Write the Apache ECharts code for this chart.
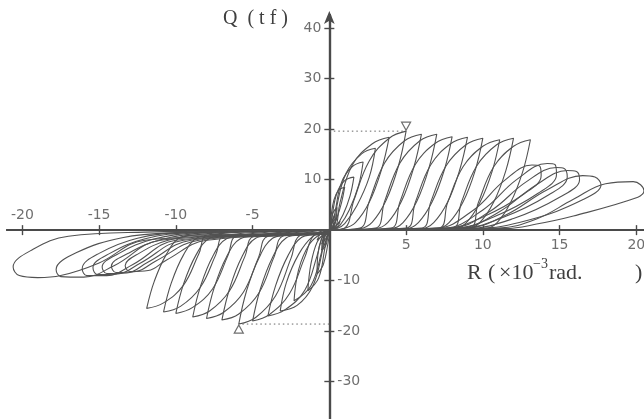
<!DOCTYPE html>
<html>
<head>
<meta charset="utf-8">
<script src="https://cdn.jsdelivr.net/npm/echarts@6/dist/echarts.min.js"></script>
<style>
  html, body { margin: 0; padding: 0; background: #ffffff; }
  #chart { width: 644px; height: 419px; }
</style>
</head>
<body>
<div id="chart"></div>
<script>
// Axis ticks and labels (R in 1e-3 rad, Q in tf)
const xTickValues = [-20, -15, -10, -5, 5, 10, 15, 20];
const xLabelsNeg = [-20, -15, -10, -5];
const xLabelsPos = [5, 10, 15, 20];
const yTickValues = [-30, -20, -10, 10, 20, 30, 40];
const yLabelsPos = [10, 20, 30, 40];
const yLabelsNeg = [-10, -20, -30];

// Maximum load points in each direction
const peakPos = [5.0, 19.6];
const peakNeg = [-5.9, -18.6];

// Small cycles around the origin
const originLoops = [
  [[0,0],[0.3,1.2],[0.5,2.5],[0.2,1.5],[0,0],[-0.3,-1.2],[-0.5,-2.8],[-0.2,-1.5],[0,0]],
  [[0,0],[0.2,2],[0.35,3.2],[0.15,1],[0,0],[-0.2,-2],[-0.4,-3.5],[-0.1,-1],[0,0]],
  [[0,0],[0.4,0.8],[0.7,1.8],[0.5,0.6],[0,0],[-0.4,-1],[-0.8,-2],[-0.5,-0.5],[0,0]]
];

// Positive half cycles (R, Q)
const positiveLoops = [
  [[0,0],[0.1,1.5],[0.25,3.5],[0.5,4.5],[0.45,2.5],[0.3,0.8],[0.1,0.1],[0,0]],
  [[0,0],[0.1,2.5],[0.3,6],[0.6,7.9],[1.0,8.5],[0.8,5.5],[0.5,2.5],[0.2,0.4],[0,0]],
  [[0,0],[0.1,0.3],[0.2,3.1],[0.5,7.4],[1.0,9.8],[1.6,10.5],[1.35,6.8],[0.9,3.1],[0.4,0.6],[0.1,0.2],[0,0]],
  [[0,0],[0.2,0.3],[0.4,4],[0.8,9.5],[1.5,12.6],[2.2,13.5],[1.9,8.8],[1.3,4],[0.7,1],[0.3,0.2],[0,0]],
  [[0,0],[0.3,0.3],[0.5,4.9],[1.1,11.3],[2.1,15.1],[3.0,16.2],[2.6,10.5],[1.8,4.9],[1.0,1.3],[0.5,0.3],[0,0]],
  [[0,0],[0.4,0.4],[0.7,5.5],[1.5,12.9],[2.8,17.1],[3.9,18.4],[3.4,12],[2.6,5.5],[1.7,1.5],[0.9,0.3],[0,0]],
  [[0,0],[1,0.4],[1.6,5.9],[2.6,13.7],[3.9,18.2],[5,19.6],[4.5,12.7],[3.7,5.9],[2.8,1.6],[2,0.3],[0,0]],
  [[0,0],[2,0.4],[2.6,5.7],[3.6,13.3],[4.9,17.7],[6,19],[5.5,12.4],[4.7,5.7],[3.8,1.5],[3,0.3],[0,0]],
  [[0,0],[3,0.4],[3.6,5.7],[4.6,13.3],[5.9,17.7],[7,19],[6.5,12.4],[5.7,5.7],[4.8,1.5],[4,0.3],[0,0]],
  [[0,0],[4,0.4],[4.6,5.6],[5.6,13],[6.9,17.2],[8,18.5],[7.5,12],[6.7,5.6],[5.8,1.5],[5,0.3],[0,0]],
  [[0,0],[5,0.4],[5.6,5.5],[6.6,12.9],[7.9,17.1],[9,18.4],[8.5,12],[7.7,5.5],[6.8,1.5],[6,0.3],[0,0]],
  [[0,0],[6,0.4],[6.6,5.5],[7.6,12.7],[8.9,16.9],[10,18.2],[9.5,11.8],[8.7,5.5],[7.8,1.5],[7,0.3],[0,0]],
  [[0,0],[7.1,0.4],[7.7,5.4],[8.7,12.5],[10,16.6],[11.1,17.9],[10.6,11.6],[9.8,5.4],[8.9,1.4],[8.1,0.3],[0,0]],
  [[0,0],[8,0.4],[8.6,5.5],[9.6,12.7],[10.9,16.9],[12,18.2],[11.5,11.8],[10.7,5.5],[9.8,1.5],[9,0.3],[0,0]],
  [[0,0],[9.1,0.4],[9.7,5.4],[10.7,12.5],[12,16.6],[13.1,17.9],[12.6,11.6],[11.8,5.4],[10.9,1.4],[10.1,0.3],[0,0]],
  [[0,0],[7,0.4],[9.4,4],[11.4,9.8],[13.2,12.9],[13.7,12.7],[13.8,10.8],[12.7,7.2],[10,2.6],[7.5,0.3],[0,0]],
  [[0,0],[7.5,0.4],[10,4],[12.2,10],[14.2,13.2],[14.7,13],[14.8,11],[13.6,7.3],[10.7,2.6],[8,0.3],[0,0]],
  [[0,0],[8,0.4],[10.5,3.8],[12.8,9.5],[14.8,12.4],[15.3,12.2],[15.5,10.5],[14.3,7],[11.3,2.5],[8.5,0.3],[0,0]],
  [[0,0],[8.5,0.4],[11,3.5],[13.5,9],[15.5,11.8],[16.1,11.6],[16.3,10],[15,6.5],[12,2.3],[9,0.3],[0,0]],
  [[0,0],[9,0.4],[11.5,3],[14.2,8],[16.5,10.8],[17.3,10.5],[17.7,9],[16.5,6],[13,2],[9.5,0.3],[0,0]],
  [[0,0],[11,0.4],[13.5,2.2],[15.9,6.1],[18,9.2],[19.8,9.6],[20.5,7.8],[20.1,6.5],[15.9,2.8],[13.5,1.2],[11.5,0.3],[0,0]]
];

// Negative half cycles (R, Q)
const negativeLoops = [
  [[0,0],[0,-0.2],[-0.1,-1.5],[-0.25,-3.2],[-0.5,-4],[-0.45,-2.2],[-0.3,-0.8],[-0.1,-0.3],[0,0]],
  [[0,0],[0,-0.3],[-0.1,-2.8],[-0.4,-6.9],[-0.8,-8.7],[-0.75,-4.9],[-0.5,-1.7],[-0.15,-0.4],[0,0]],
  [[0,0],[-0.1,-0.4],[-0.3,-3.7],[-0.7,-9.5],[-1.4,-12],[-1.2,-6.7],[-0.8,-2.4],[-0.3,-0.5],[0,0]],
  [[0,0],[-0.2,-0.5],[-0.5,-4.3],[-1.2,-11],[-2.3,-14],[-2.0,-7.8],[-1.3,-2.8],[-0.5,-0.6],[0,0]],
  [[0,0],[-0.3,-0.6],[-0.5,-4.8],[-1.1,-11.2],[-2.1,-14.9],[-3.2,-16],[-2.8,-10.4],[-2,-4.8],[-1.1,-1.3],[-0.5,-0.8],[0,-0.3]],
  [[0,0],[-0.4,-0.8],[-0.8,-5.1],[-1.6,-11.9],[-2.9,-15.8],[-4,-17],[-3.5,-11],[-2.7,-5.1],[-1.8,-1.4],[-1,-0.9],[0,-0.4]],
  [[0,0],[-1,-1],[-1.6,-5.4],[-2.6,-12.6],[-3.9,-16.7],[-5,-18],[-4.5,-11.7],[-3.7,-5.4],[-2.8,-1.5],[-2,-1],[0,-0.5]],
  [[0,0],[-1.9,-1],[-2.5,-5.6],[-3.5,-13],[-4.8,-17.3],[-5.9,-18.6],[-5.4,-12.1],[-4.6,-5.6],[-3.7,-1.6],[-2.9,-1.1],[0,-0.6]],
  [[0,0],[-3,-1.1],[-3.6,-5.3],[-4.6,-12.5],[-5.9,-16.6],[-7,-17.8],[-6.5,-11.6],[-5.7,-5.3],[-4.8,-1.6],[-4,-1.2],[0,-0.7]],
  [[0,0],[-4,-1.2],[-4.6,-5.3],[-5.6,-12.3],[-6.9,-16.3],[-8,-17.5],[-7.5,-11.4],[-6.7,-5.3],[-5.8,-1.7],[-5,-1.3],[0,-0.8]],
  [[0,0],[-4.9,-1.2],[-5.5,-5.2],[-6.5,-12],[-7.8,-16],[-8.9,-17.2],[-8.4,-11.2],[-7.6,-5.2],[-6.7,-1.7],[-5.9,-1.3],[0,-0.8]],
  [[0,0],[-6,-1.1],[-6.6,-5],[-7.6,-11.6],[-8.9,-15.3],[-10,-16.5],[-9.5,-10.7],[-8.7,-5],[-7.8,-1.6],[-7,-1.2],[0,-0.8]],
  [[0,0],[-6.8,-1],[-7.4,-4.9],[-8.4,-11.3],[-9.7,-15.1],[-10.8,-16.2],[-10.3,-10.5],[-9.5,-4.9],[-8.6,-1.5],[-7.8,-1.1],[0,-0.8]],
  [[0,0],[-7.9,-0.9],[-8.5,-4.7],[-9.5,-10.9],[-10.8,-14.4],[-11.9,-15.5],[-11.4,-10.1],[-10.6,-4.7],[-9.7,-1.4],[-8.9,-1],[0,-0.8]],
  [[0,0],[-7.5,-0.6],[-10.5,-2],[-12.4,-4.6],[-13.3,-7],[-13,-8.2],[-11.8,-8],[-10.6,-5.9],[-8,-2],[0,-0.8]],
  [[0,0],[-8,-0.5],[-11,-1.9],[-13.1,-4.6],[-14.2,-7.1],[-13.9,-8.4],[-12.6,-8.2],[-11.3,-6.1],[-8.5,-2],[0,-0.6]],
  [[0,0],[-8.5,-0.5],[-11.5,-1.8],[-13.7,-4.6],[-14.8,-7.3],[-14.5,-8.6],[-13.2,-8.5],[-11.8,-6.3],[-9,-2],[0,-0.6]],
  [[0,0],[-9,-0.5],[-12,-1.7],[-14.3,-4.6],[-15.4,-7.4],[-15.1,-8.8],[-13.8,-8.7],[-12.3,-6.5],[-9.5,-2],[0,-0.6]],
  [[0,0],[-9.5,-0.5],[-12.5,-1.6],[-15,-4.6],[-16.1,-7.6],[-15.8,-9],[-14.5,-9],[-12.8,-6.8],[-10,-2],[0,-0.6]],
  [[0,0],[-10,-0.5],[-13.5,-1.5],[-16.5,-4.5],[-17.8,-7.8],[-17.5,-9.2],[-16,-9.3],[-14,-7],[-11,-2],[0,-0.6]],
  [[0,0],[-12,-0.4],[-17,-1.2],[-19.3,-3.8],[-20.6,-7.3],[-20.2,-9],[-19,-9.4],[-17.5,-9],[-15,-6.5],[-12,-2],[0,-0.6]]
];

const INK = '#4a4a4a';
const LINE = '#525252';
const tickText = { fontFamily: '"DejaVu Sans"', fontSize: 14, color: INK };
const serif = '"Liberation Serif", "DejaVu Serif", serif';

function makeX(position, axisIdx) {
  return {
    type: 'value', min: -21, max: 20.5, position: position,
    axisLine: { onZero: true, onZeroAxisIndex: axisIdx, lineStyle: { color: INK, width: 2.2 } },
    axisTick: { show: true, customValues: xTickValues, length: 5, lineStyle: { color: INK, width: 1.4 } },
    axisLabel: { show: false },
    splitLine: { show: false }
  };
}
function makeY(position, axisIdx, arrow) {
  return {
    type: 'value', min: -37.4, max: 42.6, position: position,
    axisLine: {
      onZero: true, onZeroAxisIndex: axisIdx,
      symbol: arrow ? ['none', 'arrow'] : ['none', 'none'], symbolSize: [8, 13], symbolOffset: [0, 4],
      lineStyle: { color: INK, width: 2.2 }
    },
    axisTick: { show: true, customValues: yTickValues, length: 5, lineStyle: { color: INK, width: 1.4 } },
    axisLabel: { show: false },
    splitLine: { show: false }
  };
}

function loopSeries(points) {
  return {
    type: 'line', data: points, smooth: 0.4, symbol: 'none', silent: true,
    xAxisIndex: 0, yAxisIndex: 0, z: 2,
    lineStyle: { color: LINE, width: 1.1 }
  };
}

// tick labels sit on the crossing axes, placed through the value scales
function tickLabels(points, position, valueIdx) {
  return {
    type: 'scatter', data: points, symbolSize: 0, silent: true, z: 6,
    label: Object.assign({
      show: true, position: position, distance: 8,
      formatter: function (p) { return String(p.value[valueIdx]); }
    }, tickText)
  };
}

const series = [];
originLoops.concat(positiveLoops, negativeLoops).forEach(function (pts) { series.push(loopSeries(pts)); });

// dotted guides from the Q axis to the peak loads
series.push({
  type: 'line', data: [[0, peakPos[1]], peakPos], symbol: 'none', silent: true, z: 3,
  lineStyle: { color: '#666', width: 1, type: [1.5, 3] }
});
series.push({
  type: 'line', data: [[0, peakNeg[1]], peakNeg], symbol: 'none', silent: true, z: 3,
  lineStyle: { color: '#666', width: 1, type: [1.5, 3] }
});
// triangle markers at the peaks
series.push({
  type: 'scatter', data: [peakPos], symbol: 'triangle', symbolRotate: 180, symbolSize: [9, 8],
  symbolOffset: [0, -5], silent: true, z: 5,
  itemStyle: { color: '#ffffff', borderColor: INK, borderWidth: 1.2 }
});
series.push({
  type: 'scatter', data: [peakNeg], symbol: 'triangle', symbolSize: [9, 8],
  symbolOffset: [0, 5], silent: true, z: 5,
  itemStyle: { color: '#ffffff', borderColor: INK, borderWidth: 1.2 }
});

series.push(tickLabels(xLabelsNeg.map(function (v) { return [v, 0]; }), 'top', 0));
series.push(tickLabels(xLabelsPos.map(function (v) { return [v, 0]; }), 'bottom', 0));
series.push(tickLabels(yLabelsPos.map(function (v) { return [0, v]; }), 'left', 1));
series.push(tickLabels(yLabelsNeg.map(function (v) { return [0, v]; }), 'right', 1));

function txt(x, y, s, size) {
  return {
    type: 'text', x: x, y: y, silent: true,
    style: { text: s, font: size + 'px ' + serif, fill: '#3f3f3f', textAlign: 'left', textVerticalAlign: 'middle', verticalAlign: 'middle' }
  };
}

const option = {
  animation: false,
  backgroundColor: '#ffffff',
  grid: { left: 7, right: 0, top: 15, bottom: 0, containLabel: false, outerBoundsMode: 'none' },
  xAxis: [makeX('bottom', 0), makeX('top', 1)],
  yAxis: [makeY('left', 0, true), makeY('right', 1, false)],
  series: series,
  graphic: [
    txt(223, 19, 'Q  ( t f )', 20),
    txt(467, 273, 'R', 22),
    txt(488, 273, '(', 22),
    txt(499, 273, '×10', 22),
    txt(533, 264, '−3', 14),
    txt(549, 273, 'rad.', 22),
    txt(635, 273, ')', 22)
  ]
};

const chart = echarts.init(document.getElementById('chart'), null, { renderer: 'canvas' });
chart.setOption(option);
</script>
</body>
</html>
